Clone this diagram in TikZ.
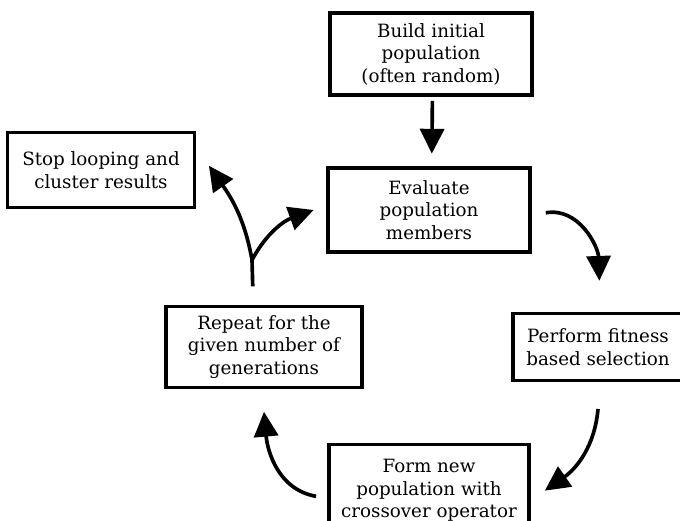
\documentclass[tikz,border=0pt]{standalone}
\usepackage{fontspec}
\setmainfont{DejaVu Serif}
\usetikzlibrary{arrows.meta}
\begin{document}
\begin{tikzpicture}[x=0.025cm, y=-0.025cm, font=\fontsize{13}{16}\selectfont,
    box/.style={draw, line width=2.4pt, align=center, inner sep=2pt},
    flow/.style={line width=2.6pt, -{Triangle[width=0.6cm, length=0.62cm]}}]
  \useasboundingbox (0,0) rectangle (680,521);
  % the steps of the loop
  \node[box, minimum width=5.05cm, minimum height=2.05cm] (build) at (431,54) {Build initial\\ population\\ (often random)};
  \node[box, minimum width=5.05cm, minimum height=2.1cm] (eval) at (429,210) {Evaluate\\ population\\ members};
  \node[box, minimum width=4.25cm, minimum height=1.68cm] (select) at (598,347) {Perform fitness\\ based selection};
  \node[box, minimum width=5.0cm, minimum height=2.3cm, anchor=north] (form) at (429,443) {Form new\\ population with\\ crossover operator};
  \node[box, minimum width=4.9cm, minimum height=2.03cm] (repeat) at (264,347) {Repeat for the\\ given number of\\ generations};
  \node[box, minimum width=4.68cm, minimum height=1.88cm] (stop) at (101,170) {Stop looping and\\ cluster results};
  \coordinate (fork) at (252,260);
  % connectors
  \draw[flow] ([xshift=1pt, yshift=-3pt]build.south) -- ([xshift=2pt, yshift=9pt]eval.north);
  \draw[flow] ([xshift=10pt, yshift=-2pt]eval.east) to[out=10, in=92] ([xshift=1pt, yshift=22pt]select.north);
  \draw[flow] ([yshift=-19pt]select.south) to[out=-95, in=35] ([xshift=10pt]form.east);
  \draw[flow] ([xshift=-8pt, yshift=-4pt]form.west) to[out=170, in=-85] ([yshift=-16pt]repeat.south);
  \draw[line width=2.6pt] ([xshift=-8pt, yshift=13pt]repeat.north) -- (fork);
  \draw[flow] (fork) to[out=62, in=200] ([xshift=-9pt]eval.west);
  \draw[flow] (fork) to[out=100, in=-55] ([xshift=9pt, yshift=3pt]stop.east);
\end{tikzpicture}
\end{document}
